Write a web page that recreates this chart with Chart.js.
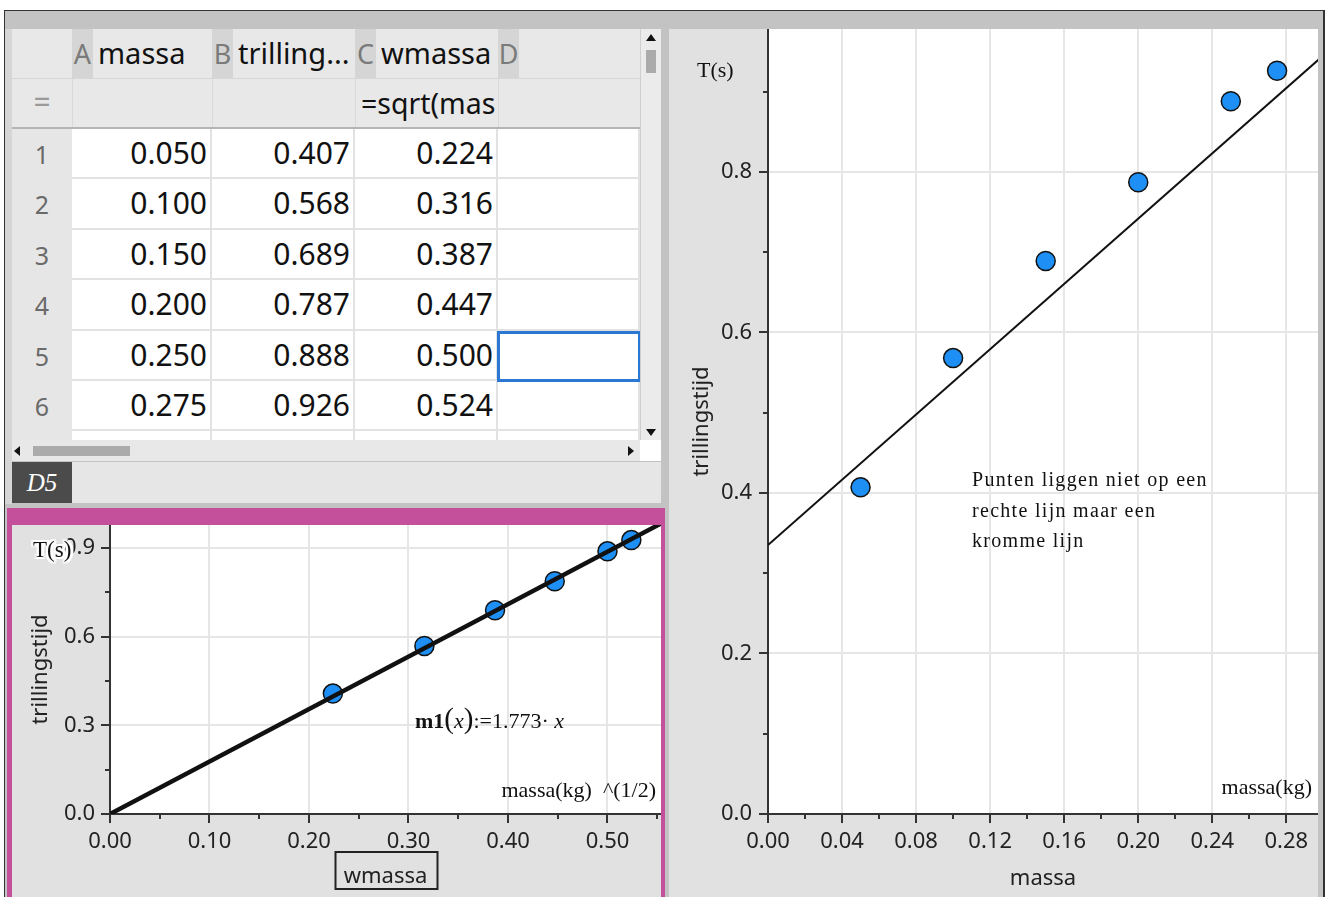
<!DOCTYPE html>
<html>
<head>
<meta charset="utf-8">
<script src="https://cdn.jsdelivr.net/npm/chart.js@4.4.1/dist/chart.umd.min.js"></script>
<style>
  body { margin: 0; background: #fff; }
  #page { position: relative; width: 1325px; height: 897px; overflow: hidden; background: #fff; font-family: "Noto Sans", sans-serif; }
  .abs { position: absolute; }
  .serif { font-family: "Liberation Serif", "DejaVu Serif", serif; color: #111; white-space: nowrap; }
  canvas { position: absolute; }
</style>
</head>
<body>
<div id="page">
  <div id="frame" class="abs" style="left:4px;top:10px;width:1321px;height:887px;background:#c3c3c3;border-top:1px solid #333;border-left:1px solid #333;box-sizing:border-box;"></div>
  <div class="abs" style="left:1323px;top:10px;width:2px;height:887px;background:#333;"></div>
  <div class="abs" style="left:5px;top:29px;width:7px;height:475px;background:#d6d6d6;"></div>

  <!-- spreadsheet -->
  <div id="sheet" class="abs" style="left:12px;top:29px;width:649px;height:411px;background:#e8e8e8;overflow:hidden;"></div>
  <div id="hscroll" class="abs" style="left:12px;top:440px;width:628px;height:21px;background:#e8e8e8;"></div>
  <div class="abs" style="left:640px;top:440px;width:21px;height:21px;background:#fff;"></div>
  <div class="abs" style="left:33px;top:446px;width:97px;height:10px;background:#ababab;"></div>
  <div class="abs" style="left:14px;top:446px;width:0;height:0;border-top:5px solid transparent;border-bottom:5px solid transparent;border-right:6px solid #111;"></div>
  <div class="abs" style="left:628px;top:446px;width:0;height:0;border-top:5px solid transparent;border-bottom:5px solid transparent;border-left:6px solid #111;"></div>

  <div class="abs" style="left:12px;top:462px;width:649px;height:41px;background:#e6e6e6;"></div>
  <div class="abs serif" style="left:12px;top:462px;width:60px;height:41px;background:#4b4b4b;color:#fff;font-style:italic;font-size:25px;line-height:41px;text-align:center;">D5</div>

  <!-- left graph -->
  <div class="abs" style="left:7px;top:508px;width:658px;height:389px;background:#c4509c;"></div>
  <canvas id="leftGraph" width="649" height="372" style="left:12px;top:525px;"></canvas>

  <!-- right graph -->
  <canvas id="rightGraph" width="649" height="868" style="left:669px;top:29px;"></canvas>

  <!-- notes on the graphs -->
  <div class="abs serif" style="left:697px;top:58px;font-size:22px;line-height:24px;">T(s)</div>
  <div class="abs serif" style="right:13px;top:775px;font-size:22px;line-height:24px;">massa(kg)</div>
  <div class="abs serif" style="left:972px;top:464px;font-size:20px;line-height:30.5px;letter-spacing:1.3px;">Punten liggen niet op een<br>rechte lijn maar een<br>kromme lijn</div>
  <div class="abs serif" style="left:33px;top:537px;font-size:23px;line-height:26px;text-shadow:2px 0 0 #fff,-2px 0 0 #fff,0 2px 0 #fff,0 -2px 0 #fff,2px 2px 0 #fff,-2px -2px 0 #fff,2px -2px 0 #fff,-2px 2px 0 #fff,3px 0 0 #fff;">T(s)</div>
  <div class="abs serif" style="left:415px;top:703px;font-size:22px;line-height:30px;"><b>m1</b><span style="font-size:29px;">(</span><i>x</i><span style="font-size:29px;">)</span>:=1.773· <i>x</i></div>
  <div class="abs serif" style="right:669px;top:778px;font-size:22px;line-height:24px;">massa(kg)&nbsp; ^(1/2)</div>
</div>

<script>
// ---- data ----
const massa = [0.050, 0.100, 0.150, 0.200, 0.250, 0.275];
const trillingstijd = [0.407, 0.568, 0.689, 0.787, 0.888, 0.926];
const wmassa = [0.224, 0.316, 0.387, 0.447, 0.500, 0.524];

const columnLetters = ['A', 'B', 'C', 'D'];
const columnNames = ['massa', 'trillingstijd', 'wmassa', ''];
const columnFormulas = ['', '', '=sqrt(massa)', ''];

// m1(x) = 1.773*x on the left graph, ends
const m1X = [0, 0.56];
const m1Y = [0, 0.993];
// straight line drawn on the right graph
const lineX = [0, 0.298];
const lineY = [0.335, 0.941];

// axis ticks
const leftXMajor = [0, 0.1, 0.2, 0.3, 0.4, 0.5];
const leftXMinor = [0.05, 0.15, 0.25, 0.35, 0.45, 0.55];
const leftYMajor = [0, 0.3, 0.6, 0.9];
const leftYMinor = [0.15, 0.45, 0.75];
const rightXMajor = [0, 0.04, 0.08, 0.12, 0.16, 0.20, 0.24, 0.28];
const rightXMinor = [0.02, 0.06, 0.10, 0.14, 0.18, 0.22, 0.26];
const rightYMajor = [0, 0.2, 0.4, 0.6, 0.8];
const rightYMinor = [0.1, 0.3, 0.5, 0.7, 0.9];

//-----------------------------------------------------
// Spreadsheet
//-----------------------------------------------------
const sheet = document.getElementById('sheet');
const colX = [0, 60, 200, 343, 486, 628];   // relative to sheet
const rowH = 50.4;

function box(x, y, w, h, css, text) {
    const d = document.createElement('div');
    d.className = 'abs';
    d.style.cssText += `left:${x}px;top:${y}px;width:${w}px;height:${h}px;` + css;
    if (text !== undefined) d.textContent = text;
    sheet.appendChild(d);
    return d;
}

// drop whole characters until the text fits its cell
function fitText(d) {
    while (d.textContent.length && d.scrollWidth > d.clientWidth) {
        d.textContent = d.textContent.slice(0, -1);
    }
}

function shortName(name) {
    return name.length > 8 ? name.slice(0, 8) + '...' : name;
}

// header row + formula row
box(0, 0, 628, 99, 'background:#e8e8e8;');
box(0, 49, 628, 1, 'background:#d6d6d6;');
box(0, 98, 628, 2, 'background:#b5b5b5;');
columnLetters.forEach((letter, i) => {
    const x = colX[i + 1];
    box(x, 0, 21, 49, 'background:#d5d5d5;color:#7a7a7a;font-size:27px;line-height:49px;text-align:center;', letter);
    box(x + 26, 0, colX[i + 2] - x - 26, 49, 'color:#111;font-size:29px;line-height:47px;white-space:nowrap;overflow:hidden;', shortName(columnNames[i]));
    box(x, 50, 1, 48, 'background:#d9d9d9;');
    const f = box(x + 6, 50, colX[i + 2] - x - 5, 48, 'color:#111;font-size:28.5px;line-height:48px;white-space:nowrap;overflow:hidden;', columnFormulas[i]);
    fitText(f);
});
box(0, 50, 60, 48, 'color:#9a9a9a;font-size:30px;line-height:46px;text-align:center;', '=');

// data rows
const columns = [massa, trillingstijd, wmassa, null];
for (let r = 0; r < 7; r++) {
    const y = 100 + r * rowH;
    box(0, y, 60, rowH, 'background:#e6e6e6;color:#6a6a6a;font-size:25px;text-align:center;line-height:' + rowH + 'px;',
        r < massa.length ? String(r + 1) : '');
    columns.forEach((col, c) => {
        const x = colX[c + 1];
        const txt = col && r < col.length ? col[r].toFixed(3) : '';
        box(x, y, colX[c + 2] - x, rowH,
            'background:#fff;border-right:2px solid #e2e2e2;border-bottom:2px solid #e2e2e2;box-sizing:border-box;' +
            'color:#111;font-size:30px;text-align:right;padding-right:3px;line-height:' + (rowH - 2) + 'px;', txt);
    });
}
// selected cell D5
box(colX[4] - 1, 100 + 4 * rowH, colX[5] - colX[4] + 2, rowH + 1, 'border:3px solid #2a78d4;box-sizing:border-box;');

// vertical scrollbar
box(628, 0, 21, 411, 'background:#ebebeb;border-left:1px solid #cfcfcf;box-sizing:border-box;');
box(634, 21, 10, 23, 'background:#ababab;');
box(634, 5, 0, 0, 'border-left:5px solid transparent;border-right:5px solid transparent;border-bottom:7px solid #111;');
box(634, 400, 0, 0, 'border-left:5px solid transparent;border-right:5px solid transparent;border-top:7px solid #111;');

//-----------------------------------------------------
// Graphs
//-----------------------------------------------------
const panelBg = {
    id: 'panelBg',
    beforeDraw(chart) {
        const {ctx, chartArea: a, width, height} = chart;
        ctx.save();
        ctx.fillStyle = '#e1e1e1';
        ctx.fillRect(0, 0, width, height);
        ctx.fillStyle = '#fff';
        ctx.fillRect(a.left, a.top, a.right - a.left, a.bottom - a.top);
        ctx.restore();
    }
};

const tickMarks = {
    id: 'tickMarks',
    afterDraw(chart) {
        const {ctx, chartArea: a, scales} = chart;
        ctx.save();
        ctx.strokeStyle = '#333';
        ctx.lineWidth = 2;
        scales.x.ticks.forEach(t => {
            const px = Math.round(scales.x.getPixelForValue(t.value));
            ctx.beginPath();
            ctx.moveTo(px, a.bottom);
            ctx.lineTo(px, a.bottom + (t.isMajor ? 9 : 5));
            ctx.stroke();
        });
        scales.y.ticks.forEach(t => {
            const py = Math.round(scales.y.getPixelForValue(t.value));
            ctx.beginPath();
            ctx.moveTo(a.left, py);
            ctx.lineTo(a.left - (t.isMajor ? 9 : 5), py);
            ctx.stroke();
        });
        // boxed axis title (left graph)
        const tb = chart.options.plugins.tickMarks;
        if (tb && tb.boxTitle) {
            const cx = (a.left + a.right) / 2;
            ctx.font = '22px "Noto Sans"';
            const w = ctx.measureText(scales.x.options.title.text).width + 18;
            ctx.lineWidth = 2;
            ctx.strokeStyle = '#222';
            ctx.strokeRect(Math.round(cx - w / 2) + 0.5, tb.boxTop, Math.round(w), tb.boxHeight);
        }
        ctx.restore();
    }
};

function buildTicks(major, minor) {
    return major.map(v => ({value: v, isMajor: true}))
        .concat(minor.map(v => ({value: v, isMajor: false})))
        .sort((p, q) => p.value - q.value);
}

function axis(cfg) {
    return {
        type: 'linear',
        min: 0,
        max: cfg.max,
        afterBuildTicks: s => { s.ticks = buildTicks(cfg.major, cfg.minor); },
        afterFit: s => {
            if (cfg.horizontal) s.height = cfg.size; else s.width = cfg.size;
            s.paddingLeft = s.paddingRight = s.paddingTop = s.paddingBottom = 0;
        },
        ticks: {
            autoSkip: false,
            maxRotation: 0,
            padding: cfg.pad,
            color: '#222',
            font: {family: 'Noto Sans', size: 22},
            callback: (v, i, ticks) => ticks[i].isMajor ? Number(v).toFixed(cfg.dec) : ''
        },
        grid: {
            drawTicks: false,
            lineWidth: 2,
            color: c => (c.tick && c.tick.isMajor && c.tick.value !== 0) ? '#e6e6e6' : 'rgba(0,0,0,0)'
        },
        border: {display: true, color: '#333', width: 2},
        title: {
            display: true,
            text: cfg.title,
            color: '#222',
            font: {family: 'Noto Sans', size: 22},
            padding: cfg.titlePad
        }
    };
}

function toPoints(xs, ys) {
    return xs.map((x, i) => ({x: x, y: ys[i]}));
}

function makeGraph(id, g) {
    return new Chart(document.getElementById(id).getContext('2d'), {
        type: 'scatter',
        data: {
            datasets: [{
                type: 'line',
                data: toPoints(g.lineX, g.lineY),
                borderColor: '#111',
                borderWidth: g.lineWidth,
                pointRadius: 0,
                fill: false
            }, {
                data: toPoints(g.xs, g.ys),
                pointRadius: 9.5,
                pointBackgroundColor: '#1e8ff5',
                pointBorderColor: '#111',
                pointBorderWidth: 1.5
            }]
        },
        options: {
            responsive: false,
            animation: false,
            devicePixelRatio: 1,
            layout: {padding: 0, autoPadding: false},
            plugins: {legend: {display: false}, tooltip: {enabled: false}, tickMarks: g.boxTitle || {}},
            scales: {x: axis(g.x), y: axis(g.y)}
        },
        plugins: [panelBg, tickMarks]
    });
}

makeGraph('leftGraph', {
    xs: wmassa, ys: trillingstijd, lineX: m1X, lineY: m1Y, lineWidth: 4.5,
    x: {horizontal: true, size: 83, max: 0.5538, major: leftXMajor, minor: leftXMinor, dec: 2, pad: 15,
        title: 'wmassa', titlePad: {top: 0, bottom: 7}},
    y: {size: 98, max: 0.977, major: leftYMajor, minor: leftYMinor, dec: 1, pad: 15,
        title: 'trillingstijd', titlePad: {top: 16, bottom: 0}},
    boxTitle: {boxTitle: true, boxTop: 327, boxHeight: 37}
});

makeGraph('rightGraph', {
    xs: massa, ys: trillingstijd, lineX: lineX, lineY: lineY, lineWidth: 2,
    x: {horizontal: true, size: 83, max: 0.2971, major: rightXMajor, minor: rightXMinor, dec: 2, pad: 15,
        title: 'massa', titlePad: {top: 0, bottom: 5}},
    y: {size: 99, max: 0.978, major: rightYMajor, minor: rightYMinor, dec: 1, pad: 16,
        title: 'trillingstijd', titlePad: {top: 20, bottom: 0}}
});
</script>
</body>
</html>
